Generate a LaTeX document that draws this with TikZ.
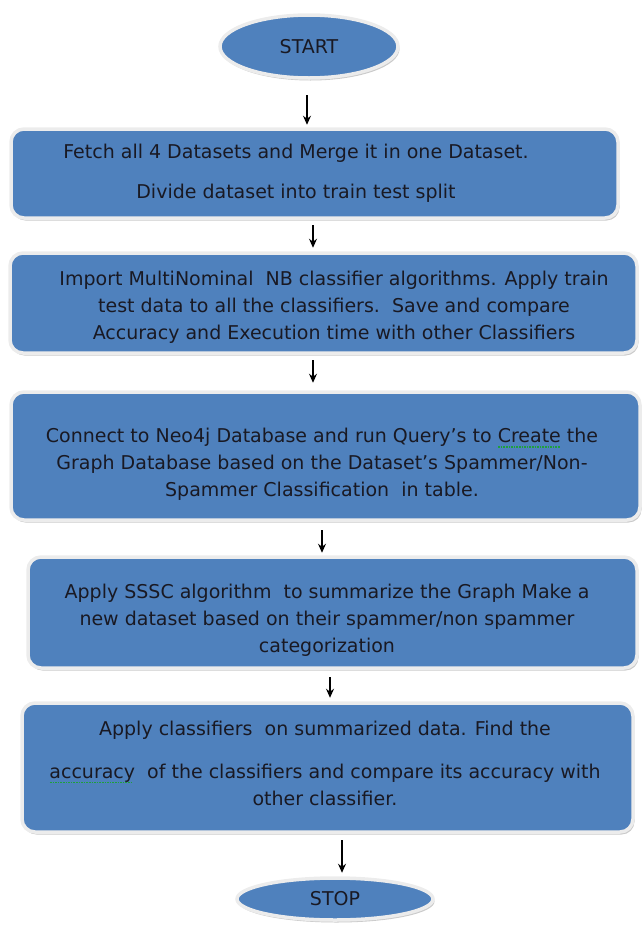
\documentclass[tikz,border=0pt]{standalone}
\usepackage{fontspec}
\setmainfont{DejaVu Sans}
\usetikzlibrary{shapes.geometric,shadows,arrows.meta}

\definecolor{boxblue}{RGB}{79,129,189}
\definecolor{rimgray}{RGB}{236,236,236}
\definecolor{shadowgray}{RGB}{150,150,150}
\definecolor{txtcol}{RGB}{25,25,35}
\definecolor{squig}{RGB}{30,160,60}

% green dotted mark under a word
\newcommand\spellwave[1]{\leavevmode\sbox0{#1}%
  \rlap{\textcolor{squig}{\hbox to \wd0{\leaders\hbox to 2.6pt{\hss\rule[-5pt]{1.6pt}{1.4pt}\hss}\hfill}}}\usebox0}

\begin{document}
\begin{tikzpicture}[x = 1pt, y = -1pt,
  every node/.style = {font = \fontsize{19}{27}\selectfont, text = txtcol},
  stepbox/.style = {rectangle, rounded corners = 13pt, inner sep = 0pt,
    fill = boxblue, draw = rimgray, line width = 3.5pt,
    drop shadow = {shadow xshift = 1.5pt, shadow yshift = -2.5pt, fill = shadowgray}},
  endpoint/.style = {ellipse, inner sep = 0pt,
    fill = boxblue, draw = rimgray, line width = 3.5pt,
    drop shadow = {shadow xshift = 1.5pt, shadow yshift = -2.5pt, fill = shadowgray}},
  flow/.style = {-{Stealth[length = 9pt, width = 8pt]}, line width = 1.1pt}]

\useasboundingbox (0, 0) rectangle (643, 927);

% terminals
\node[endpoint, minimum width = 178pt, minimum height = 63pt] (start) at (309, 46.5) {START};
\node[endpoint, minimum width = 196pt, minimum height = 42pt] (stop) at (335, 899) {STOP};

% process boxes
\node[stepbox, minimum width = 607pt, minimum height = 89pt] (fetch) at (314.5, 173.5) {};
\node[stepbox, minimum width = 627pt, minimum height = 100pt] (train) at (323.5, 303) {};
\node[stepbox, minimum width = 629pt, minimum height = 128pt] (neo) at (325.5, 456) {};
\node[stepbox, minimum width = 609pt, minimum height = 111pt] (sssc) at (332.5, 612.5) {};
\node[stepbox, minimum width = 611pt, minimum height = 129pt] (summ) at (327.5, 767.5) {};

% box texts
\node[align = center] (fetchtext) at (296, 173) {Fetch all 4 Datasets and Merge it in one Dataset.\\[13pt]
  Divide dataset into train test split};
\node[align = center] (traintext) at (334, 307.5) {Import MultiNominal\ \ NB classifier algorithms. Apply train\\
  test data to all the classifiers.\ \ Save and compare\\
  Accuracy and Execution time with other Classifiers};
\node[align = center] (neotext) at (322, 464.5) {Connect to Neo4j Database and run Query’s to \spellwave{Create} the\\
  Graph Database based on the Dataset’s Spammer/Non-\\
  Spammer Classification\ \ in table.};
\node[align = center] (sssctext) at (327, 620.5) {Apply SSSC algorithm\ \ to summarize the Graph Make a\\
  new dataset based on their spammer/non spammer\\
  categorization};
\node[align = center] (summtext) at (325, 763) {Apply classifiers\ \ on summarized data. Find the\\[16pt]
  \spellwave{accuracy}\ \ of the classifiers and compare its accuracy with\\
  other classifier.};

% arrows
\draw[flow, shorten <= 15.5pt, shorten >= 2.5pt] ([xshift = -2pt]start.south) -- ([xshift = -2pt]start.south |- fetch.north);
\draw[flow, shorten <= 5.5pt, shorten >= 3.5pt] ([xshift = -1.5pt]fetch.south) -- ([xshift = -1.5pt]fetch.south |- train.north);
\draw[flow, shorten <= 5.5pt, shorten >= 7.5pt] ([xshift = -10.5pt]train.south) -- ([xshift = -10.5pt]train.south |- neo.north);
\draw[flow, shorten <= 8.5pt, shorten >= 2.5pt] ([xshift = -3.5pt]neo.south) -- ([xshift = -3.5pt]neo.south |- sssc.north);
\draw[flow, shorten <= 7.5pt, shorten >= 3.5pt] ([xshift = -2.5pt]sssc.south) -- ([xshift = -2.5pt]sssc.south |- summ.north);
\draw[flow, shorten <= 6.5pt, shorten >= 3.5pt] ([xshift = 14.5pt]summ.south) -- ([xshift = 14.5pt]summ.south |- stop.north);

\end{tikzpicture}
\end{document}
